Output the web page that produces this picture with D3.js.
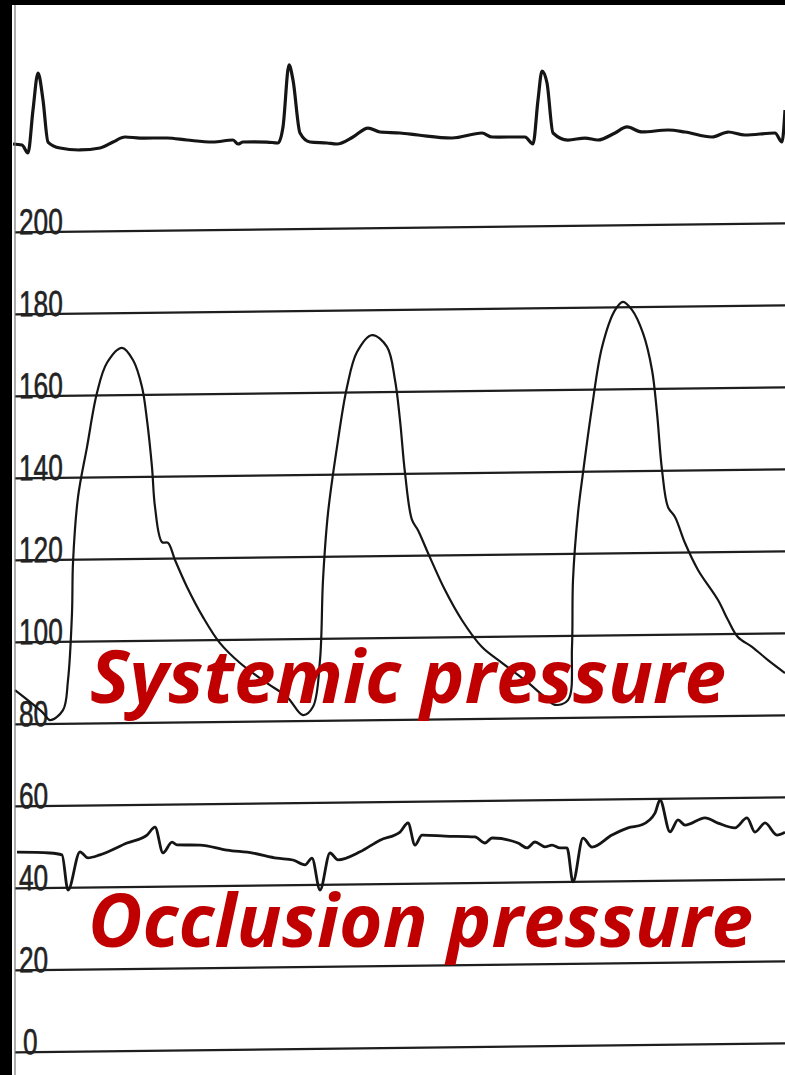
<!DOCTYPE html>
<html>
<head>
<meta charset="utf-8">
<script src="https://cdn.jsdelivr.net/npm/d3@7"></script>
<style>
  html, body { margin: 0; padding: 0; background: #fff; }
  svg { display: block; }
</style>
</head>
<body>
<svg id="chart"></svg>
<script>
// pressure grid (mmHg)
const pressureTicks = [0, 20, 40, 60, 80, 100, 120, 140, 160, 180, 200];

// ECG trace, time in ms, amplitude in mV (relative)
const ecgTime = [4, 40, 64, 84, 104, 124, 144, 192, 272, 352, 404, 452, 512, 620, 700, 804, 884, 904, 924, 1020,
  1064, 1084, 1108, 1124, 1152, 1192, 1260, 1300, 1364, 1424, 1472, 1552, 1624, 1760, 1880, 1920, 2052, 2084, 2104, 2120,
  2140, 2164, 2224, 2292, 2344, 2412, 2460, 2520, 2624, 2692, 2800, 2864, 2932, 3052, 3080, 3092];
const ecgMv = [0.078, 0.063, -0.044, 0.528, 1.021, 0.660, 0.099, 0.017, -0.012, 0.011, 0.089, 0.154, 0.138, 0.134, 0.104, 0.074, 0.097, 0.043, 0.069, 0.065,
  0.050, 0.263, 1.089, 0.888, 0.180, 0.059, 0.043, 0.028, 0.119, 0.236, 0.181, 0.165, 0.135, 0.090, 0.152, 0.097, 0.092, -0.002, 0.583, 0.969,
  0.809, 0.141, 0.045, 0.069, 0.041, 0.132, 0.210, 0.141, 0.163, 0.134, 0.063, 0.127, 0.085, 0.107, -0.014, 0.412];

// systemic arterial pressure, mmHg
const sysTime = [12, 124, 152, 204, 224, 240, 244, 264, 300, 340, 380, 440, 484, 520, 540, 560, 572, 600, 624, 652,
  700, 764, 832, 912, 1020, 1100, 1164, 1204, 1232, 1244, 1264, 1300, 1340, 1380, 1440, 1500, 1532, 1552, 1572, 1600,
  1624, 1664, 1732, 1800, 1880, 1960, 2052, 2132, 2172, 2224, 2240, 2244, 2264, 2284, 2320, 2360, 2412, 2444, 2480, 2524,
  2560, 2580, 2600, 2624, 2652, 2692, 2744, 2824, 2864, 2904, 2960, 3024, 3092];
const sysMmHg = [88.2, 82.6, 80.8, 83.2, 90.5, 106.9, 119.1, 135.1, 147.3, 160.5, 167.8, 171.4, 168.4, 161.8, 153.7, 142.2, 132.5, 123.9, 123.7, 119.5,
  112.9, 105.5, 99.1, 94.2, 89.2, 85.8, 81.3, 83.3, 94.7, 114.2, 130.5, 146.6, 161.2, 169.7, 173.8, 170.9, 162.8, 153.0, 140.1, 128.6,
  126.1, 120.5, 111.4, 104.0, 97.4, 93.5, 89.2, 85.0, 83.1, 84.2, 97.2, 113.5, 129.8, 139.6, 155.6, 170.2, 179.2, 181.2, 179.2, 173.5,
  164.5, 154.0, 140.1, 131.0, 128.6, 122.2, 115.6, 108.2, 103.3, 99.1, 96.7, 93.4, 90.2];

// occlusion (wedge) pressure, mmHg
const occTime = [20, 152, 200, 224, 272, 304, 352, 460, 540, 572, 604, 640, 660, 752, 860, 964, 1060, 1124, 1172, 1200,
  1232, 1272, 1304, 1392, 1472, 1552, 1584, 1612, 1640, 1732, 1852, 1892, 1920, 2024, 2060, 2092, 2132, 2160, 2192, 2220,
  2244, 2284, 2320, 2400, 2464, 2520, 2572, 2592, 2632, 2664, 2692, 2772, 2824, 2892, 2940, 2972, 3012, 3060, 3092];
const occMmHg = [48.7, 48.4, 47.9, 39.3, 48.6, 47.1, 47.8, 50.6, 52.5, 54.4, 48.1, 50.7, 50.0, 49.9, 48.6, 47.8, 46.5, 46.0, 44.8, 46.4,
  38.6, 47.6, 45.9, 47.8, 50.6, 52.5, 54.7, 49.3, 51.7, 51.4, 51.1, 49.6, 50.8, 49.5, 48.3, 49.7, 48.5, 48.9, 48.2, 48.2,
  39.9, 50.5, 48.3, 51.2, 52.9, 53.6, 56.4, 59.6, 51.8, 54.7, 53.4, 55.1, 53.8, 52.6, 55.0, 51.5, 53.7, 50.7, 51.4];

const W = 785, H = 1075;

const svg = d3.select("#chart")
    .attr("width", W)
    .attr("height", H);

svg.append("rect").attr("width", W).attr("height", H).attr("fill", "#fff");

const x = d3.scaleLinear().domain([0, 3100]).range([12, 787]);
const y = d3.scaleLinear().domain([0, 200]).range([1052, 232]);
const yEcg = d3.scaleLinear().domain([0, 1]).range([150, 75]);

// the scanned strip is slightly tilted
const plot = svg.append("g").attr("transform", "skewY(-0.665)");

const grid = plot.append("g")
    .attr("transform", "translate(15,0)")
    .call(d3.axisRight(y).tickValues(pressureTicks).tickSize(775).tickFormat(d3.format("d")));

grid.select(".domain").remove();
grid.selectAll(".tick line")
    .attr("stroke", "#1e1e1e")
    .attr("stroke-width", 2.2);
grid.selectAll(".tick text")
    .attr("x", d => d === 0 ? 8 : 4)
    .attr("y", 2)
    .attr("dy", 0)
    .attr("text-anchor", "start")
    .attr("textLength", d => String(d).length * 14.6)
    .attr("lengthAdjust", "spacingAndGlyphs")
    .style("font-family", "'Liberation Sans', Arial, sans-serif")
    .style("font-size", "36px")
    .style("fill", "#222")
    .style("stroke", "#222")
    .style("stroke-width", 0.6);

const ecgLine = d3.line()
    .x((d, i) => x(ecgTime[i]))
    .y(d => yEcg(d))
    .curve(d3.curveMonotoneX);

const sysLine = d3.line()
    .x((d, i) => x(sysTime[i]))
    .y(d => y(d))
    .curve(d3.curveCatmullRom.alpha(0.5));

const occLine = d3.line()
    .x((d, i) => x(occTime[i]))
    .y(d => y(d))
    .curve(d3.curveMonotoneX);

plot.append("path")
    .attr("d", ecgLine(ecgMv))
    .attr("fill", "none")
    .attr("stroke", "#151515")
    .attr("stroke-width", 3.2)
    .attr("stroke-linejoin", "round");

plot.append("path")
    .attr("d", sysLine(sysMmHg))
    .attr("fill", "none")
    .attr("stroke", "#151515")
    .attr("stroke-width", 2.2)
    .attr("stroke-linejoin", "round");

plot.append("path")
    .attr("d", occLine(occMmHg))
    .attr("fill", "none")
    .attr("stroke", "#151515")
    .attr("stroke-width", 2.8)
    .attr("stroke-linejoin", "round");

// scanner edges
svg.append("line")
    .attr("x1", 15).attr("x2", 15).attr("y1", 0).attr("y2", H)
    .attr("stroke", "#777").attr("stroke-width", 1.2);
svg.append("rect").attr("x", 0).attr("y", 0).attr("width", 12).attr("height", H).attr("fill", "#000");
svg.append("rect").attr("x", 0).attr("y", 0).attr("width", W).attr("height", 5).attr("fill", "#000");

// annotations
const labels = [
    {text: "Systemic pressure", x: 90, y: 703, len: 636},
    {text: "Occlusion pressure", x: 88, y: 947, len: 665}
];

svg.selectAll(".note")
    .data(labels)
    .enter()
    .append("text")
    .attr("class", "note")
    .attr("x", d => d.x)
    .attr("y", d => d.y)
    .attr("textLength", d => d.len)
    .attr("lengthAdjust", "spacingAndGlyphs")
    .text(d => d.text)
    .style("font-family", "'Open Sans', 'Noto Sans', sans-serif")
    .style("font-weight", "bold")
    .style("font-style", "italic")
    .style("font-size", "74px")
    .style("fill", "#c00000");
</script>
</body>
</html>
